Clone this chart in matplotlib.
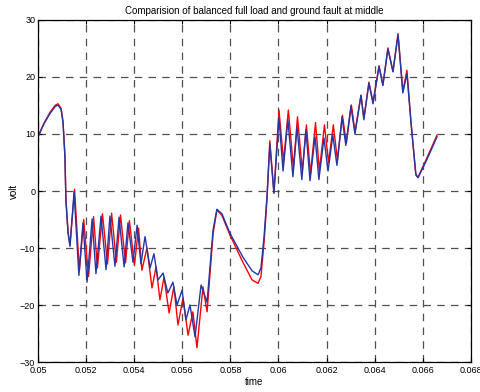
import matplotlib.pyplot as plt

plt.rcParams['font.family'] = ['Liberation Sans', 'DejaVu Sans']

# balanced full load (blue) - time and volt
t_blue = [0.05000, 0.05025, 0.05050, 0.05071, 0.05083, 0.05096, 0.05104, 0.05112,
          0.05116, 0.05125, 0.05133, 0.05150, 0.05170, 0.05187,
          0.05204, 0.05225, 0.05241, 0.05262, 0.05283, 0.05299, 0.05320, 0.05337,
          0.05358, 0.05374, 0.05395, 0.05412, 0.05428, 0.05445, 0.05466, 0.05482,
          0.05499, 0.05520, 0.05540, 0.05561, 0.05578, 0.05599, 0.05615, 0.05632,
          0.05653, 0.05678, 0.05703, 0.05728, 0.05744, 0.05765, 0.05798, 0.05852,
          0.05890, 0.05915, 0.05927, 0.05940, 0.05952, 0.05964, 0.05981, 0.06002,
          0.06019, 0.06039, 0.06060, 0.06077, 0.06097, 0.06114, 0.06131, 0.06152,
          0.06168, 0.06189, 0.06206, 0.06226, 0.06243, 0.06264, 0.06280, 0.06301,
          0.06318, 0.06343, 0.06355, 0.06376, 0.06393, 0.06418, 0.06434, 0.06455,
          0.06476, 0.06497, 0.06517, 0.06534, 0.06551, 0.06571, 0.06580, 0.06617,
          0.06659]
v_blue = [9.5, 11.8, 13.6, 14.8, 15.1, 14.3, 12.0, 6.0,
          -1.6, -7.4, -9.7, -0.2, -14.8, -5.6,
          -16.0, -4.9, -14.5, -4.4, -13.8, -4.4, -13.2, -4.6,
          -13.3, -5.6, -12.5, -6.0, -12.8, -8.0, -13.5, -11.0,
          -15.6, -14.4, -17.9, -16.0, -20.0, -17.4, -22.6, -20.0,
          -25.6, -16.5, -19.5, -6.8, -3.2, -4.0, -7.4, -11.6,
          -14.0, -14.7, -13.5, -8.0, -1.0, 8.2, -0.4, 12.8,
          3.5, 12.5, 2.5, 11.2, 2.0, 10.7, 1.8, 9.5,
          2.0, 9.3, 3.5, 9.8, 4.5, 13.0, 8.0, 14.9,
          10.0, 16.8, 12.5, 18.9, 15.3, 21.8, 18.5, 24.9,
          20.9, 27.4, 17.2, 20.6, 12.0, 3.0, 2.3, 5.5,
          9.5]

# ground fault at middle (red)
t_red = [0.05000, 0.05025, 0.05050, 0.05071, 0.05083, 0.05096, 0.05104, 0.05112,
         0.05116, 0.05125, 0.05133, 0.05152, 0.05172, 0.05190,
         0.05210, 0.05231, 0.05247, 0.05268, 0.05289, 0.05306, 0.05326, 0.05343,
         0.05364, 0.05380, 0.05401, 0.05418, 0.05432, 0.05453, 0.05474, 0.05491,
         0.05507, 0.05524, 0.05545, 0.05565, 0.05582, 0.05603, 0.05624, 0.05644,
         0.05661, 0.05686, 0.05703, 0.05728, 0.05744, 0.05765, 0.05798, 0.05852,
         0.05890, 0.05915, 0.05927, 0.05940, 0.05952, 0.05964, 0.05981, 0.06002,
         0.06021, 0.06041, 0.06062, 0.06079, 0.06099, 0.06116, 0.06133, 0.06154,
         0.06170, 0.06191, 0.06208, 0.06228, 0.06245, 0.06266, 0.06282, 0.06303,
         0.06318, 0.06343, 0.06355, 0.06376, 0.06393, 0.06418, 0.06434, 0.06455,
         0.06476, 0.06497, 0.06517, 0.06534, 0.06551, 0.06571, 0.06580, 0.06617,
         0.06659]
v_red = [9.6, 11.9, 13.8, 15.0, 15.3, 14.5, 12.2, 6.2,
         -1.4, -7.2, -9.5, 0.3, -14.0, -5.0,
         -15.0, -4.5, -13.5, -4.0, -12.8, -3.9, -12.5, -4.2,
         -12.6, -5.2, -13.0, -6.5, -13.9, -10.0, -17.0, -13.3,
         -19.1, -15.1, -21.4, -16.8, -23.5, -18.8, -25.3, -21.2,
         -27.5, -16.8, -21.2, -7.5, -3.3, -4.3, -7.7, -12.5,
         -15.6, -16.2, -15.0, -9.0, -1.5, 8.8, -0.3, 14.2,
         5.2, 14.2, 4.0, 13.0, 3.5, 11.6, 3.0, 12.0,
         3.5, 11.6, 5.0, 11.6, 5.4, 13.3, 8.4, 15.1,
         10.4, 16.8, 12.8, 19.1, 15.6, 22.0, 18.6, 25.1,
         21.0, 27.6, 17.5, 21.2, 12.0, 2.8, 2.4, 5.8,
         9.8]

x_ticks = [0.05, 0.052, 0.054, 0.056, 0.058, 0.06, 0.062, 0.064, 0.066, 0.068]
x_labels = ['0.05', '0.052', '0.054', '0.056', '0.058', '0.06', '0.062', '0.064', '0.066', '0.068']
y_ticks = [-30, -20, -10, 0, 10, 20, 30]

fig = plt.figure(figsize=(4.81, 3.92), dpi=100)
ax = fig.add_axes([0.079, 0.0765, 0.9, 0.8725])

ax.plot(t_red, v_red, color='#ff0000', lw=1.0)
ax.plot(t_blue, v_blue, color='#2038a8', lw=1.0)

ax.set_xlim(0.05, 0.068)
ax.set_ylim(-30, 30)
ax.set_xticks(x_ticks)
ax.set_xticklabels(x_labels)
ax.set_yticks(y_ticks)
ax.tick_params(direction='in', top=True, right=True, labelsize=6.5, length=3)
ax.tick_params(axis='x', pad=3)
ax.tick_params(axis='y', pad=2)
ax.grid(True, color='#505050', linestyle=(0, (6, 5)), linewidth=0.9)
for s in ax.spines.values():
    s.set_linewidth(0.9)

ax.set_title('Comparision of balanced full load and ground fault at middle', fontsize=7, pad=4)
ax.set_xlabel('time', fontsize=7, labelpad=1)
ax.set_ylabel('volt', fontsize=7, labelpad=1)

fig.savefig('out.png', dpi=100)
